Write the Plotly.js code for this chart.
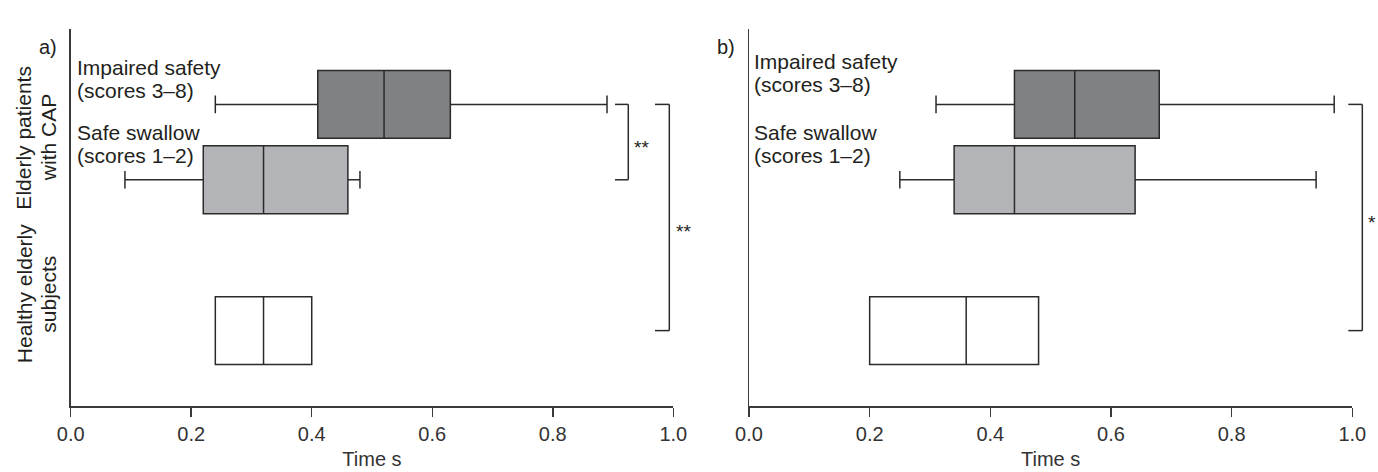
<!DOCTYPE html>
<html>
<head>
<meta charset="utf-8">
<script src="https://cdn.plot.ly/plotly-3.0.1.min.js"></script>
<style>html,body{margin:0;padding:0;background:#fff;}</style>
</head>
<body>
<div id="chart" style="width:1378px;height:472px;"></div>
<script>
// ---- data ----
const groupNames = ['Impaired safety (scores 3–8)', 'Safe swallow (scores 1–2)', 'Healthy elderly subjects'];
const groupPositions = [4, 3, 1];
const groupFills = ['#808184', '#b3b4b7', '#ffffff'];

// Panel a)
const aLower  = [0.24, 0.09, 0.24];
const aQ1     = [0.41, 0.22, 0.24];
const aMedian = [0.52, 0.32, 0.32];
const aQ3     = [0.63, 0.46, 0.40];
const aUpper  = [0.89, 0.48, 0.40];

// Panel b)
const bLower  = [0.31, 0.25, 0.20];
const bQ1     = [0.44, 0.34, 0.20];
const bMedian = [0.54, 0.44, 0.36];
const bQ3     = [0.68, 0.64, 0.48];
const bUpper  = [0.97, 0.94, 0.48];

const xTickVals = [0, 0.2, 0.4, 0.6, 0.8, 1.0];
const xTickText = ['0.0', '0.2', '0.4', '0.6', '0.8', '1.0'];

// ---- styling ----
const FONT = 'Liberation Sans, Arial, Helvetica, sans-serif';
const INK = '#2a2a2a';
const AXIS = '#3a3a3a';

function boxTraces(lower, q1, med, q3, upper, xa, ya) {
  return groupNames.map((name, i) => ({
    type: 'box', orientation: 'h', name: name, showlegend: false,
    y: [groupPositions[i]],
    lowerfence: [lower[i]], q1: [q1[i]], median: [med[i]], q3: [q3[i]], upperfence: [upper[i]],
    width: 0.9, whiskerwidth: 0.26,
    fillcolor: groupFills[i],
    line: {color: INK, width: 1.5},
    boxpoints: false,
    xaxis: xa, yaxis: ya, hoverinfo: 'x'
  }));
}

const data = [].concat(
  boxTraces(aLower, aQ1, aMedian, aQ3, aUpper, 'x', 'y'),
  boxTraces(bLower, bQ1, bMedian, bQ3, bUpper, 'x2', 'y2')
);

function xAxis(domain, anchor) {
  return {
    domain: domain, anchor: anchor, range: [0, 1], fixedrange: true,
    showline: true, linecolor: AXIS, linewidth: 1.5,
    ticks: 'outside', ticklen: 9, tickwidth: 1.5, tickcolor: AXIS,
    tickvals: xTickVals, ticktext: xTickText,
    tickfont: {family: FONT, size: 20, color: '#333'},
    showgrid: false, zeroline: false,
    title: {text: 'Time s', font: {family: FONT, size: 20, color: '#333'}, standoff: 8}
  };
}
function yAxis(anchor) {
  return {
    domain: [0, 1], anchor: anchor, range: [0, 5], fixedrange: true,
    showline: true, linecolor: AXIS, linewidth: 1.5,
    ticks: '', showticklabels: false, showgrid: false, zeroline: false
  };
}

const W = 1378, H = 472;
const mT = 29, mB = 66;
const plotH = H - mT - mB;
const pxY = (py) => (H - mB - py) / plotH * 5; // pixel -> y data (range 0..5)

const txt = (text, xref, yref, x, y, opts) => Object.assign({
  text: text, xref: xref, yref: yref, x: x, y: y, showarrow: false,
  xanchor: 'left', yanchor: 'middle',
  font: {family: FONT, size: 21, color: '#231f20'}
}, opts || {});

const annotations = [
  // panel letters
  txt('a)', 'paper', 'paper', 37 / W, 1 - 22 / H, {font: {family: FONT, size: 20, color: '#231f20'}}),
  txt('b)', 'paper', 'paper', 715 / W, 1 - 22 / H, {font: {family: FONT, size: 20, color: '#231f20'}}),
  // group labels in panel a
  txt('Impaired safety', 'x', 'y', 0, pxY(67.5), {xshift: 4}),
  txt('(scores 3–8)', 'x', 'y', 0, pxY(90.5), {xshift: 4}),
  txt('Safe swallow', 'x', 'y', 0, pxY(132.5), {xshift: 4}),
  txt('(scores 1–2)', 'x', 'y', 0, pxY(155), {xshift: 4}),
  // group labels in panel b
  txt('Impaired safety', 'x2', 'y2', 0, pxY(61.5), {xshift: 3}),
  txt('(scores 3–8)', 'x2', 'y2', 0, pxY(84.5), {xshift: 3}),
  txt('Safe swallow', 'x2', 'y2', 0, pxY(132.5), {xshift: 3}),
  txt('(scores 1–2)', 'x2', 'y2', 0, pxY(155), {xshift: 3}),
  // rotated category labels (panel a)
  txt('Elderly patients', 'paper', 'paper', 24 / W, 1 - 136 / H, {textangle: -90, xanchor: 'center'}),
  txt('with CAP', 'paper', 'paper', 48.5 / W, 1 - 136 / H, {textangle: -90, xanchor: 'center'}),
  txt('Healthy elderly', 'paper', 'paper', 24 / W, 1 - 332 / H, {textangle: -90, xanchor: 'center'}),
  txt('subjects', 'paper', 'paper', 48.5 / W, 1 - 332 / H, {textangle: -90, xanchor: 'center'}),
  // significance marks
  txt('**', 'x domain', 'y', 0.9253, (groupPositions[0] + groupPositions[1]) / 2, {xshift: 4, yshift: -5, font: {family: FONT, size: 19, color: '#231f20'}}),
  txt('**', 'x domain', 'y', 0.9934, pxY(226), {xshift: 5, yshift: -5, font: {family: FONT, size: 19, color: '#231f20'}}),
  txt('*', 'x2 domain', 'y2', 1.0166, (groupPositions[0] + groupPositions[2]) / 2, {xshift: 4, yshift: -5, font: {family: FONT, size: 19, color: '#231f20'}})
];

function bracket(xr, yr, x0, x1, yTop, yBot) {
  const ln = {color: INK, width: 1.5};
  return [
    {type: 'line', xref: xr, yref: yr, x0: x0, x1: x1, y0: yTop, y1: yTop, line: ln},
    {type: 'line', xref: xr, yref: yr, x0: x1, x1: x1, y0: yTop, y1: yBot, line: ln},
    {type: 'line', xref: xr, yref: yr, x0: x0, x1: x1, y0: yBot, y1: yBot, line: ln}
  ];
}
const yd = (v) => v / 5; // y data -> y domain
const shapes = [].concat(
  bracket('x domain', 'y domain', 0.9033, 0.9253, yd(groupPositions[0]), yd(groupPositions[1])),
  bracket('x domain', 'y domain', 0.9696, 0.9934, yd(groupPositions[0]), yd(groupPositions[2])),
  bracket('x2 domain', 'y2 domain', 0.9934, 1.0166, yd(groupPositions[0]), yd(groupPositions[2]))
);

const layout = {
  width: W, height: H,
  margin: {l: 0, r: 0, t: mT, b: mB, pad: 0},
  paper_bgcolor: '#fff', plot_bgcolor: '#fff',
  showlegend: false, boxmode: 'overlay',
  xaxis: xAxis([70.7 / W, 673.3 / W], 'y'),
  yaxis: yAxis('x'),
  xaxis2: xAxis([749 / W, 1352.3 / W], 'y2'),
  yaxis2: yAxis('x2'),
  annotations: annotations,
  shapes: shapes,
  font: {family: FONT}
};

Plotly.newPlot('chart', data, layout, {displayModeBar: false, staticPlot: true});
</script>
</body>
</html>
